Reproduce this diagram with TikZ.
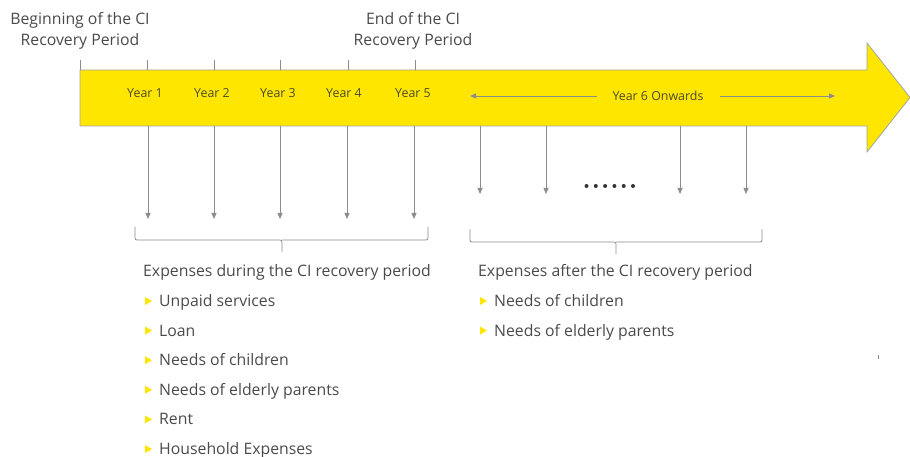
\documentclass[tikz,border=0pt]{standalone}
\usepackage{fontspec}
\setmainfont{Open Sans}
\usetikzlibrary{arrows.meta}
\definecolor{eyyellow}{HTML}{FFE600}
\definecolor{txtgray}{HTML}{4A4A4A}
\definecolor{linegray}{HTML}{8C8C8C}
\definecolor{yeartxt}{HTML}{4D4A2E}
\tikzset{
  tickline/.style={draw=linegray, line width=0.7pt},
  downarr/.style={draw=linegray, line width=0.8pt, -{Triangle[length=6pt,width=5pt]}},
  yearlbl/.style={font=\fontsize{12.4}{14}\selectfont, text=yeartxt, inner sep=0pt},
  toplbl/.style={font=\fontsize{15.8}{21}\selectfont, text=txtgray, align=center, inner sep=0pt},
  headlbl/.style={font=\fontsize{15.8}{18}\selectfont, text=txtgray, anchor=base west, inner sep=0pt},
  itemlbl/.style={font=\fontsize{15.8}{18}\selectfont, text=txtgray, anchor=base west, inner sep=0pt},
  bracel/.style={draw=linegray, line width=0.8pt, rounded corners=2pt},
  bul/.style={fill=eyyellow}
}
\newcommand{\bulletat}[2]{\fill[bul] (#1,#2-4) -- (#1+7,#2) -- (#1,#2+4) -- cycle;}
\begin{document}
\begin{tikzpicture}[x=1pt,y=-1pt]
\useasboundingbox (0,0) rectangle (910,457);
% big arrow
\filldraw[fill=eyyellow, draw=linegray!80, line width=0.8pt]
  (80,70) -- (867,70) -- (867,43) -- (910,97.5) -- (867,152) -- (867,126) -- (80,126) -- cycle;
% top labels
\node[toplbl] (beg) at (80,31) {Beginning of the CI\\Recovery Period};
\node[toplbl] (end) at (413,31) {End of the CI\\Recovery Period};
% ticks
\foreach \x in {80,147,214,280,348,415} \draw[tickline] (\x,60) -- (\x,70);
% year labels
\node[yearlbl] (y1) at (145,93) {Year 1};
\node[yearlbl] (y2) at (212,93) {Year 2};
\node[yearlbl] (y3) at (278,93) {Year 3};
\node[yearlbl] (y4) at (344,93) {Year 4};
\node[yearlbl] (y5) at (413,93) {Year 5};
\node[yearlbl] (y6) at (658,96) {Year 6 Onwards};
\coordinate (y6l) at (470,96);
\coordinate (y6r) at (835,96);
\draw[downarr] ([xshift=-15pt]y6.west) -- (y6l);
\draw[downarr] ([xshift=16pt]y6.east) -- (y6r);
% down arrows during period
\foreach \x/\n in {148/a,214/b,280/c,347/d,414/e} {
  \coordinate (s\n) at (\x,126);
  \coordinate (t\n) at (\x,219);
  \draw[downarr] (s\n) -- (t\n);
}
% down arrows after period
\foreach \x/\n in {480/f,546/g,680/h,746/i} {
  \coordinate (s\n) at (\x,126);
  \coordinate (t\n) at (\x,194);
  \draw[downarr] (s\n) -- (t\n);
}
% dots
\foreach \x in {0,1,2,3,4,5} \fill[txtgray!70!black] (586.5+\x*9.3,186) circle (2pt);
% braces
\draw[bracel] (135,227) -- (135,240) -- (282,240) -- (282,252);
\draw[bracel] (428,227) -- (428,240) -- (282,240);
\draw[bracel] (470,229) -- (470,242) -- (616,242) -- (616,254);
\draw[bracel] (762,229) -- (762,242) -- (616,242);
% headings
\node[headlbl] (h1) at (143,276.5) {Expenses during the CI recovery period};
\node[headlbl] (h2) at (478,276.5) {Expenses after the CI recovery period};
% items left
\foreach \t [count=\i] in {Unpaid services,Loan,Needs of children,Needs of elderly parents,Rent,Household Expenses} {
  \pgfmathsetmacro{\yy}{301+(\i-1)*29.6}
  \bulletat{145}{\yy}
  \node[itemlbl] at (159,\yy+5.5) {\t};
}
% items right
\foreach \t [count=\i] in {Needs of children,Needs of elderly parents} {
  \pgfmathsetmacro{\yy}{301+(\i-1)*29.6}
  \bulletat{480}{\yy}
  \node[itemlbl] at (494,\yy+5.5) {\t};
}
\draw[linegray, line width=0.6pt] (878,355) -- (878,359);
\end{tikzpicture}
\end{document}
